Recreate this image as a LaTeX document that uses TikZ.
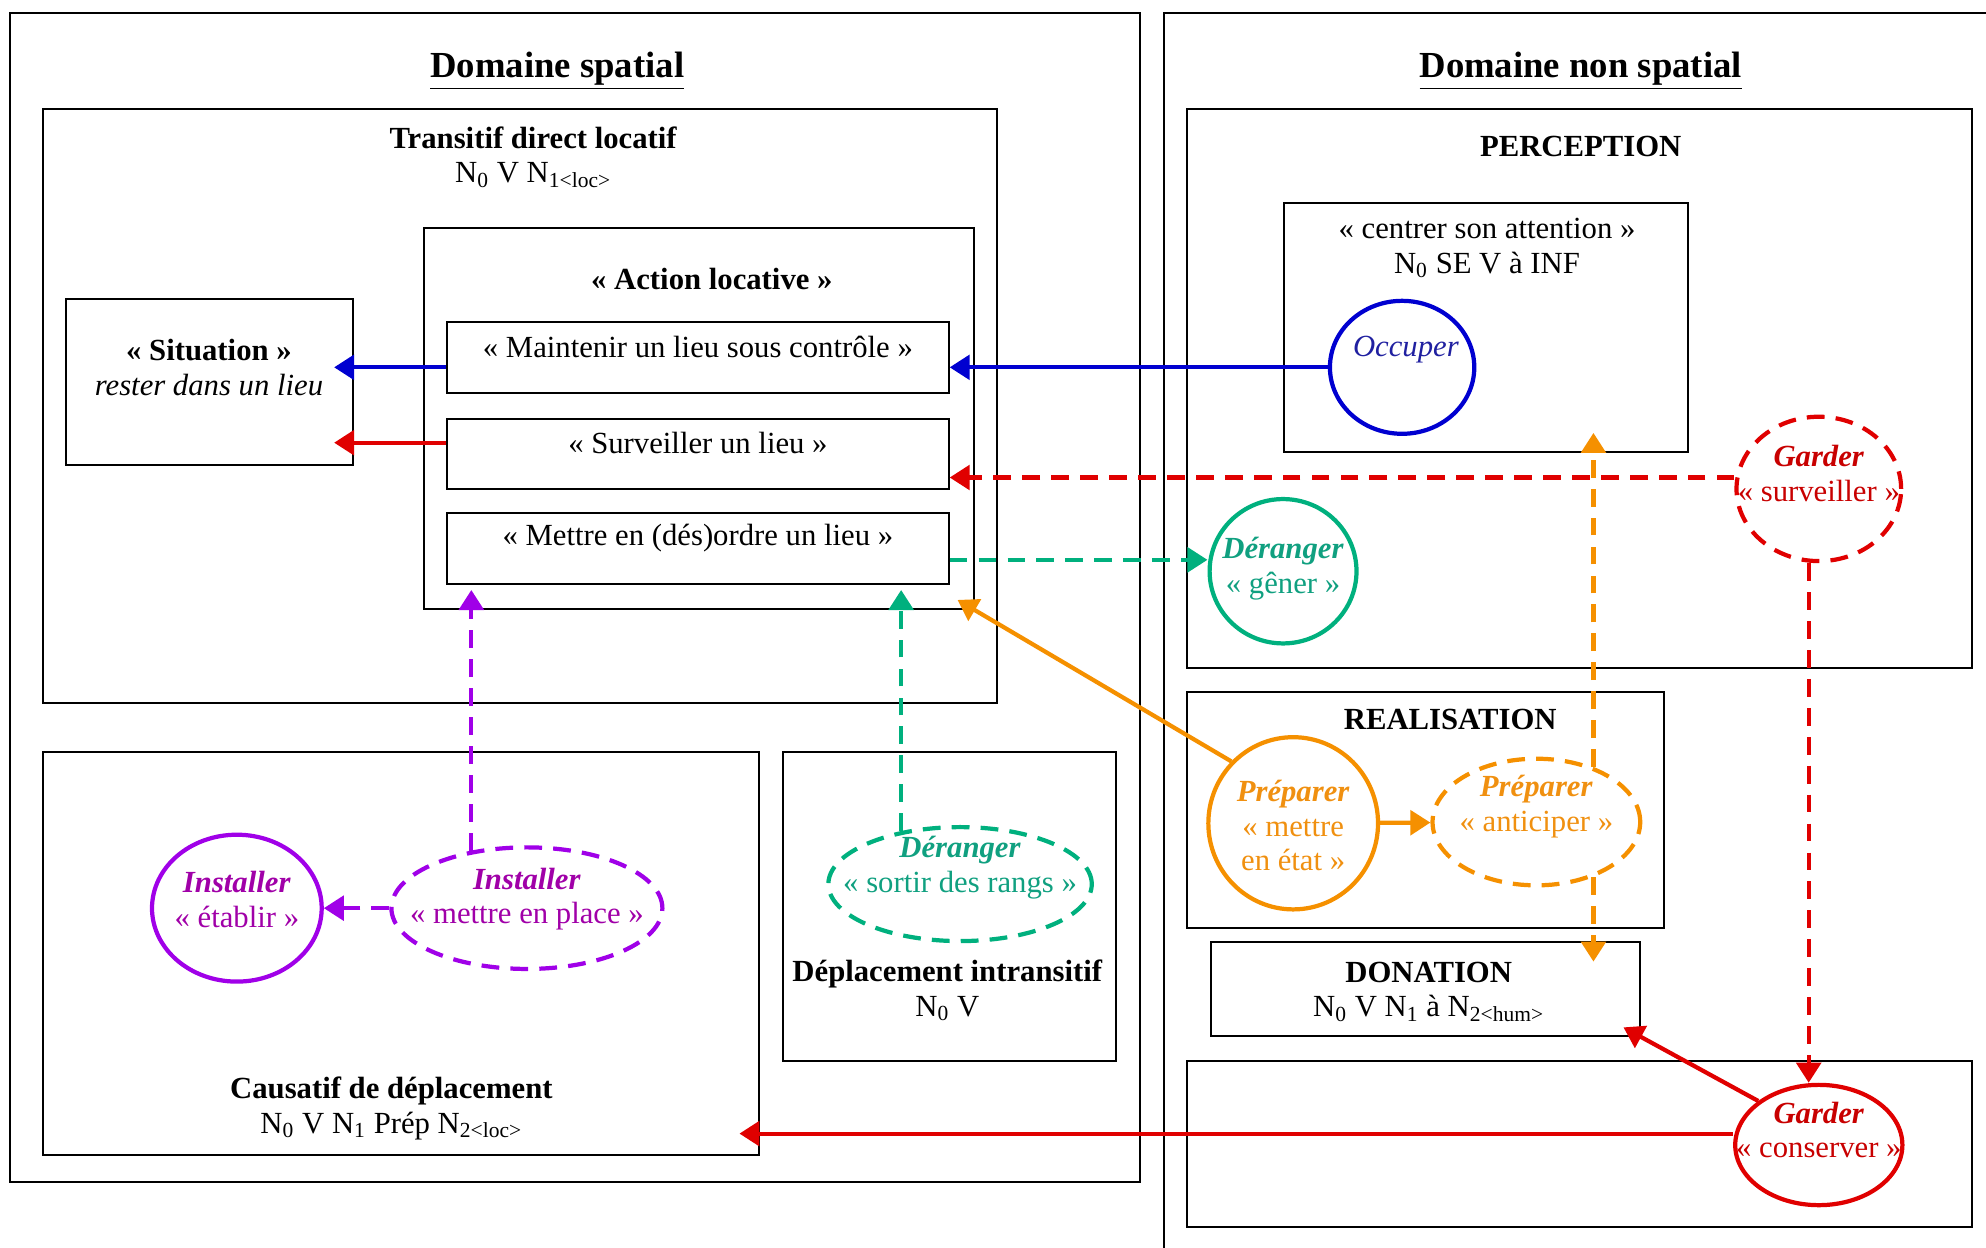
\documentclass[tikz,border=0pt]{standalone}
\usepackage{fontspec}
\setmainfont{Liberation Serif}
\definecolor{cblue}{HTML}{0000D0}
\definecolor{cred}{HTML}{E00000}
\definecolor{corange}{HTML}{F59000}
\definecolor{cgreen}{HTML}{00B07E}
\definecolor{cpurple}{HTML}{A000E8}
\definecolor{tblue}{HTML}{2020A0}
\definecolor{tred}{HTML}{C80000}
\definecolor{torange}{HTML}{F09010}
\definecolor{tgreen}{HTML}{10A080}
\definecolor{tpurple}{HTML}{A000A8}
\usetikzlibrary{arrows.meta, shapes.geometric, fit}

\begin{document}
\begin{tikzpicture}[x=0.02cm, y=-0.02cm,
  every node/.style={font=\fontsize{13.8}{15.5}\selectfont},
  box/.style={draw, line width=0.9pt, inner sep=0pt, align=center},
  lbl/.style={align=center, inner sep=0pt},
  title/.style={lbl, font=\fontsize{16.5}{18}\selectfont\bfseries},
  ell/.style={ellipse, draw=#1, line width=1.9pt, inner sep=0pt},
  dashline/.style={dash pattern=on 8pt off 5pt},
  arr/.style={color=#1, line width=1.9pt, -{Triangle[length=9pt,width=11pt]}},
  over/.style={shorten >=-0.32cm},
]
\clip (0,0) rectangle (1568,985);

% domaines
\node[box, fit={(8,10)(900,933)}] (spatial) {};
\node[box, fit={(919,10)(1600,1010)}] (nonspatial) {};
\node[title] (titleS) at (440,56) {\underline{Domaine spatial}};
\node[title] (titleNS) at (1248,56) {\underline{Domaine non spatial}};

% domaine spatial
\node[box, fit={(34,86)(787,555)}] (transitif) {};
\node[lbl] (transitifT) at (421,124) {\textbf{Transitif direct locatif}\\N\textsubscript{0} V N\textsubscript{1<loc>}};
\node[box, fit={(335,180)(769,481)}] (action) {};
\node[lbl] (actionT) at (562,220) {\textbf{« Action locative »}};
\node[box, fit={(353,254)(749,310)}] (maintenir) {« Maintenir un lieu sous contrôle »};
\node[box, fit={(353,331)(749,386)}] (surveiller) {« Surveiller un lieu »};
\node[box, fit={(353,405)(749,461)}] (mettre) {« Mettre en (dés)ordre un lieu »};
\node[box, fit={(52,236)(279,367)}] (situation) {};
\node[lbl] (situationT) at (165,290) {\textbf{« Situation »}\\\textit{rester dans un lieu}};
\node[box, fit={(34,594)(599,912)}] (causatif) {};
\node[lbl] (causatifT) at (309,875) {\textbf{Causatif de déplacement}\\N\textsubscript{0} V N\textsubscript{1} Prép N\textsubscript{2<loc>}};
\node[box, fit={(618,594)(881,838)}] (intransitif) {};
\node[lbl] (intransitifT) at (748,782) {\textbf{Déplacement intransitif}\\N\textsubscript{0} V};

% domaine non spatial
\node[box, fit={(937,86)(1557,527)}] (perception) {};
\node[lbl] (perceptionT) at (1248,116) {\textbf{PERCEPTION}};
\node[box, fit={(1014,160)(1333,357)}] (centrer) {};
\node[lbl] (centrerT) at (1174,196) {« centrer son attention »\\N\textsubscript{0} SE V à INF};
\node[box, fit={(937,546)(1314,733)}] (realisation) {};
\node[lbl] (realisationT) at (1145,568) {\textbf{REALISATION}};
\node[box, fit={(956,744)(1295,818)}] (donation) {};
\node[lbl] (donationT) at (1128,783) {\textbf{DONATION}\\N\textsubscript{0} V N\textsubscript{1} à N\textsubscript{2<hum>}};
\node[box, fit={(937,838)(1557,969)}] (garderbox) {};

% sens
\node[ell=cblue, minimum width=2.28cm, minimum height=2.1cm] (occuper) at (1107,290) {};
\node[lbl, text=tblue] (occuperT) at (1110,276) {\textit{Occuper}};
\node[ell=cred, dashline, minimum width=2.6cm, minimum height=2.28cm] (garderS) at (1436,386) {};
\node[lbl, text=tred] (garderST) at (1436,374) {\textbf{\textit{Garder}}\\« surveiller »};
\node[ell=cred, minimum width=2.64cm, minimum height=1.9cm] (garderC) at (1436,904) {};
\node[lbl, text=tred] (garderCT) at (1436,892) {\textbf{\textit{Garder}}\\« conserver »};
\node[ell=corange, minimum width=2.68cm, minimum height=2.72cm] (prepM) at (1021,650) {};
\node[lbl, text=torange] (prepMT) at (1021,652) {\textbf{\textit{Préparer}}\\« mettre\\en état »};
\node[ell=corange, dashline, minimum width=3.28cm, minimum height=2cm] (anticip) at (1213,649) {};
\node[lbl, text=torange] (anticipT) at (1213,637) {\textbf{\textit{Préparer}}\\« anticiper »};
\node[ell=cgreen, minimum width=2.32cm, minimum height=2.28cm] (derangerG) at (1013,451) {};
\node[lbl, text=tgreen] (derangerGT) at (1013,449) {\textbf{\textit{Déranger}}\\« gêner »};
\node[ell=cgreen, dashline, minimum width=4.16cm, minimum height=1.8cm] (derangerR) at (758,698) {};
\node[lbl, text=tgreen] (derangerRT) at (758,685) {\textbf{\textit{Déranger}}\\« sortir des rangs »};
\node[ell=cpurple, minimum width=2.68cm, minimum height=2.32cm] (installerE) at (187,717) {};
\node[lbl, text=tpurple] (installerET) at (187,710) {\textbf{\textit{Installer}}\\« établir »};
\node[ell=cpurple, dashline, minimum width=4.28cm, minimum height=1.92cm] (installerM) at (416,717) {};
\node[lbl, text=tpurple] (installerMT) at (416,710) {\textbf{\textit{Installer}}\\« mettre en place »};

% liens
\coordinate (svL) at ([shift={(0,-9)}]surveiller.west);
\coordinate (gsL) at ([shift={(0,-9)}]garderS.west);
\coordinate (gsB) at ([shift={(-8,0)}]garderS.south);
\coordinate (gcL) at ([shift={(0,-9)}]garderC.west);
\coordinate (meR) at ([shift={(0,9)}]mettre.east);
\draw[arr=cblue] (occuper.west) -- (occuper.west -| maintenir.east);
\draw[arr=cblue, over] (maintenir.west |- occuper.west) -- (occuper.west -| situation.east);
\draw[arr=cred, over] (svL) -- (svL -| situation.east);
\draw[arr=cred, dashline] (gsL) -- (gsL -| surveiller.east);
\draw[arr=cred, dashline] (gsB) -- (gsB |- garderC.north);
\draw[arr=cred, over] (gcL) -- (gcL -| causatif.east);
\draw[arr=cred, over] (garderC.north west) -- (donation.south east);
\draw[arr=corange] (prepM) -- (anticip);
\draw[arr=corange, over] (prepM.135) -- (action.south east);
\draw[arr=corange, dashline, over] (anticip.44) -- (anticip.44 |- centrer.south);
\draw[arr=corange, dashline, over] (anticip.-44) -- (anticip.-44 |- donation.north);
\draw[arr=cgreen, dashline] (meR) -- (meR -| derangerG.west);
\draw[arr=cgreen, dashline, over] (derangerR.138) -- (derangerR.138 |- action.south);
\draw[arr=cpurple, dashline] (installerM) -- (installerE);
\draw[arr=cpurple, dashline, over] (installerM.134) -- (installerM.134 |- action.south);
\end{tikzpicture}
\end{document}
